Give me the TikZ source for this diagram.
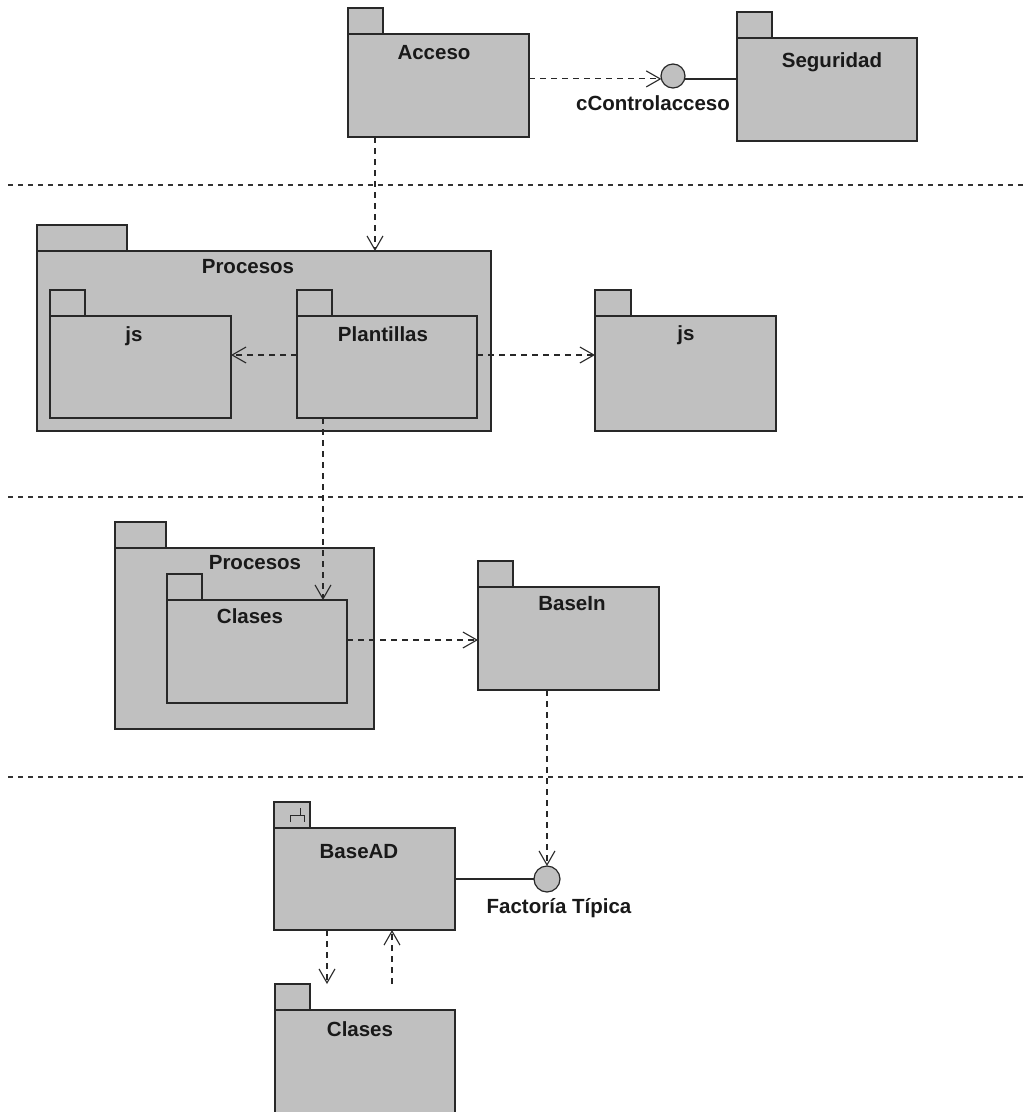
\documentclass[tikz,border=0pt]{standalone}
\usepackage{fontspec}
\setmainfont{Liberation Sans}
\usetikzlibrary{arrows.meta,calc}
\definecolor{pkggray}{RGB}{192,192,192}
\definecolor{pkgline}{RGB}{40,40,40}
\begin{document}
\begin{tikzpicture}[x=1pt,y=-1pt,
  pkg/.style={draw=pkgline, fill=pkggray, line width=1.2pt, inner sep=0pt, outer sep=0pt, anchor=north west},
  pkgtab/.style={pkg, anchor=south west, minimum width=35pt, minimum height=26pt},
  pkglabel/.style={font=\bfseries\fontsize{20.5}{23}\selectfont, inner sep=0pt, anchor=base, text=black!90},
  dep/.style={draw=pkgline, line width=1.1pt, dash pattern=on 6pt off 5pt, -{Straight Barb[length=14pt,width=16pt,line width=1.1pt]}},
  iface/.style={circle, draw=pkgline, fill=pkggray, line width=1.2pt, inner sep=0pt, outer sep=0pt},
  solidlink/.style={draw=pkgline, line width=1.2pt},
  sep/.style={draw=black!80, line width=1.2pt, dash pattern=on 5pt off 5pt}]
\useasboundingbox (0,0) rectangle (1023,1112);
\clip (0,0) rectangle (1023,1112);

% layer separators
\coordinate (sl) at (8,0);
\coordinate (sr) at (1023,0);
\foreach \y in {185,497,777}
  \draw[sep] ($(sl)+(0,\y)$) -- ($(sr)+(0,\y)$);

% ---- top layer ----
\node[pkg, minimum width=181pt, minimum height=103pt] (acceso) at (348,34) {};
\node[pkgtab] (accesotab) at (acceso.north west) {};
\node[pkglabel] at (434,59) {Acceso};

\node[pkg, minimum width=180pt, minimum height=103pt] (seguridad) at (737,38) {};
\node[pkgtab] (seguridadtab) at (seguridad.north west) {};
\node[pkglabel] at (832,67) {Seguridad};

\node[iface, minimum size=24pt] (ctrl) at (673,76) {};
\node[pkglabel] (ctrllabel) at (653,110) {cControlacceso};

% ---- second layer ----
\node[pkg, minimum width=454pt, minimum height=180pt] (procA) at (37,251) {};
\node[pkgtab, minimum width=90pt] (procAtab) at (procA.north west) {};
\node[pkglabel] at (248,273) {Procesos};

\node[pkg, minimum width=181pt, minimum height=102pt] (jsin) at (50,316) {};
\node[pkgtab] (jsintab) at (jsin.north west) {};
\node[pkglabel] at (134,341) {js};

\node[pkg, minimum width=180pt, minimum height=102pt] (plant) at (297,316) {};
\node[pkgtab] (planttab) at (plant.north west) {};
\node[pkglabel] at (383,341) {Plantillas};

\node[pkg, minimum width=181pt, minimum height=115pt] (jsout) at (595,316) {};
\node[pkgtab, minimum width=36pt] (jsouttab) at (jsout.north west) {};
\node[pkglabel] at (686,340) {js};

% ---- third layer ----
\node[pkg, minimum width=259pt, minimum height=181pt] (procB) at (115,548) {};
\node[pkgtab, minimum width=51pt] (procBtab) at (procB.north west) {};
\node[pkglabel] at (255,569) {Procesos};

\node[pkg, minimum width=180pt, minimum height=103pt] (clasesA) at (167,600) {};
\node[pkgtab] (clasesAtab) at (clasesA.north west) {};
\node[pkglabel] at (250,623) {Clases};

\node[pkg, minimum width=181pt, minimum height=103pt] (basein) at (478,587) {};
\node[pkgtab] (baseintab) at (basein.north west) {};
\node[pkglabel] at (572,610) {BaseIn};

% ---- bottom layer ----
\node[pkg, minimum width=181pt, minimum height=102pt] (basead) at (274,828) {};
\node[pkgtab, minimum width=36pt] (baseadtab) at (basead.north west) {};
% subsystem fork mark in the tab
\draw[pkgline, line width=1pt]
  ($(baseadtab.south west)+(16,-6)$) -- ++(0,-7) -- ++(14,0) -- ++(0,7)
  ($(baseadtab.south west)+(26,-13)$) -- ++(0,-7);
\node[pkglabel] at (359,858) {BaseAD};

\node[iface, minimum size=26pt] (fact) at (547,879) {};
\node[pkglabel] (factlabel) at (559,913) {Factoría Típica};

\node[pkg, minimum width=180pt, minimum height=120pt] (clasesB) at (275,1010) {};
\node[pkgtab] (clasesBtab) at (clasesB.north west) {};
\node[pkglabel] at (360,1036) {Clases};

% ---- connectors ----
\coordinate (xa) at (375,0);
\coordinate (xp) at (323,0);
\coordinate (xb) at (547,0);
\coordinate (xd) at (327,0);
\coordinate (xu) at (392,0);
\coordinate (yend) at (0,984);
\coordinate (yjs) at (0,355);
\coordinate (ycl) at (0,640);

\draw[dep] (ctrl.194 -| acceso.east) -- (ctrl.194);
\draw[solidlink] (ctrl.-14) -- (ctrl.-14 -| seguridad.west);
\draw[dep] (acceso.south -| xa) -- (procA.north -| xa);

\draw[dep] (yjs -| plant.west) -- (yjs -| jsin.east);
\draw[dep] (yjs -| plant.east) -- (yjs -| jsout.west);
\draw[dep] (plant.south -| xp) -- (clasesA.north -| xp);

\draw[dep] (ycl -| clasesA.east) -- (ycl -| basein.west);
\draw[dep] (basein.south -| xb) -- (fact.north);

\draw[solidlink] (fact.west -| basead.east) -- (fact.west);
\draw[dep] (basead.south -| xd) -- (yend -| xd);
\draw[dep] (yend -| xu) -- (basead.south -| xu);
\end{tikzpicture}
\end{document}
